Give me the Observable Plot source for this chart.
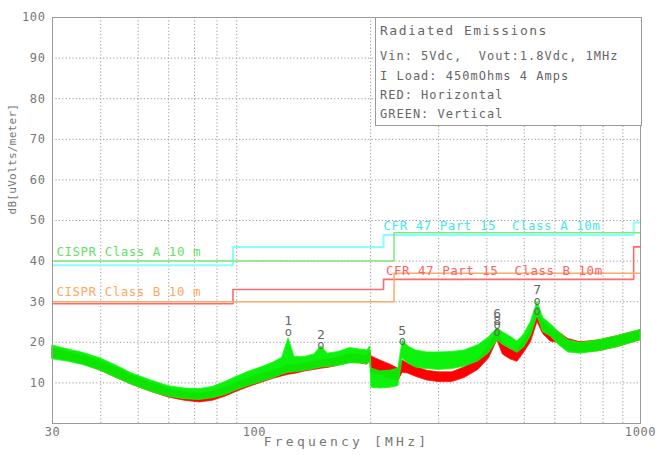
<!DOCTYPE html>
<html><head><meta charset="utf-8">
<script src="https://cdn.jsdelivr.net/npm/d3@7"></script>
<script src="https://cdn.jsdelivr.net/npm/@observablehq/plot@0.6"></script>
<style>
body{margin:0;background:#fff;}
#wrap{position:relative;width:656px;height:455px;overflow:hidden;}
#legend{position:absolute;left:375px;top:17px;width:267px;height:109px;border:1px solid #9a9a9a;background:#fff;box-sizing:border-box;font-family:"DejaVu Sans Mono",monospace;color:#666;}
#legend div{position:absolute;left:4px;white-space:pre;letter-spacing:1px;font-size:12px;line-height:14px;}
#legend div.t{font-size:13px;letter-spacing:1.5px;}
</style>
</head><body>
<div id="wrap"><div id="legend"></div></div>
<script>
// ---- data ----
const freq    = [30, 33, 36, 40, 44, 48, 54, 60, 66, 72, 78, 84, 90, 97, 104, 112, 118, 122.6, 127, 135, 143, 149, 155, 165, 177, 188, 196, 199.5, 201, 212, 225, 236, 242, 250, 262, 280, 300, 325, 350, 380, 405, 426, 440, 460, 480, 500, 520, 541, 560, 585, 615, 650, 700, 780, 870, 1000];
const greenLo = [15.8, 15.2, 14.4, 13, 11.2, 9.6, 7.8, 6.6, 6, 5.8, 6.2, 7, 8.2, 9.3, 10.2, 11.2, 12, 12.5, 12.6, 13, 13.4, 13.8, 13.9, 14.2, 14.8, 14.8, 14.6, 15, 8.8, 8.6, 8.8, 9.2, 16, 14.8, 13.8, 13.4, 13.2, 13.4, 14, 15.3, 17.3, 20.5, 19.4, 18.4, 17.4, 18.8, 21.5, 26.5, 22.5, 21.5, 19.3, 17.5, 17.2, 17.8, 18.8, 20.5];
const greenHi = [19.2, 18.2, 17.4, 16, 14.2, 12.4, 10.6, 9.2, 8.6, 8.5, 9, 10.2, 11.5, 12.8, 13.8, 15, 16.2, 21, 16.4, 16.4, 17, 19, 17.2, 17.6, 18.6, 18.2, 18, 19, 13.5, 12.8, 13, 13.5, 20.4, 19, 18, 17.5, 17.5, 17.6, 18, 19.3, 21.2, 23.5, 22.5, 21.4, 20.2, 22, 25, 30, 26, 24.5, 22.5, 20.5, 19.8, 20.5, 21.5, 23];
const redLo   = [16.2, 15.5, 14.6, 13, 11.2, 9.6, 7.8, 6.4, 5.6, 5.2, 5.6, 6.6, 7.8, 9, 10, 11, 11.6, 12, 12.2, 12.8, 13.2, 13.5, 13.7, 14.2, 15, 14.8, 14.5, 15.5, 12.5, 12, 11, 10.5, 12.5, 12.3, 11.5, 10.6, 10.2, 10.2, 11.2, 13.2, 16, 20.5, 17, 15.8, 15.2, 17.5, 20, 25, 22, 20.2, 19.8, 18, 17.5, 17.8, 18.8, 20.5];
const redHi   = [18.4, 17.5, 16.6, 15.2, 13.5, 11.8, 10, 8.5, 7.6, 7.4, 7.8, 8.8, 10, 11.2, 12.2, 13, 13.6, 14.5, 14.2, 14.8, 15.2, 15.5, 15.7, 16.2, 17, 16.8, 16.6, 18, 16.5, 15.5, 14.5, 13.5, 15.5, 14.8, 14, 13, 12.6, 12.6, 13.8, 15.8, 18.8, 23, 19.8, 18.3, 17.8, 20.3, 23, 27.5, 25, 23.2, 22.5, 20.8, 20, 20.5, 21.5, 23];

const cisprFreq = [30, 230, 1000];
const cisprADb  = [40, 47, 47];
const cisprBDb  = [30, 37, 37];
const cfrFreq   = [30, 88, 216, 960, 1000];
const cfrADb    = [39, 43.5, 46.4, 49.5, 49.5];
const cfrBDb    = [29.5, 33, 35.5, 43.5, 43.5];

const limitLabels = ["CISPR Class A 10 m", "CISPR Class B 10 m", "CFR 47 Part 15  Class A 10m", "CFR 47 Part 15  Class B 10m"];
const limitLabelFreq = [30, 30, 211, 214];
const limitLabelDb = [42.2, 32.3, 48.6, 37.6];
const limitLabelColors = ["#66e066", "#ffa860", "#44e8e8", "#ff6464"];

const markerLabels = ["1", "2", "5", "6", "8", "7", ""];
const markerFreq   = [122.6, 149, 242, 426, 426, 541, 541];
const markerDb     = [22.6, 19.2, 20.2, 24.2, 22.6, 30.2, 27.6];

const xTicks = [30, 100, 1000];
const yTicks = [10, 20, 30, 40, 50, 60, 70, 80, 90, 100];
const gridFreq = [40, 50, 60, 70, 80, 90, 200, 300, 400, 500, 600, 700, 800, 900];
const gridDb = [10, 20, 30, 40, 50, 60, 70, 80, 90];

const legendLines = ["Radiated Emissions", "Vin: 5Vdc,  Vout:1.8Vdc, 1MHz", "I Load: 450mOhms 4 Amps", "RED: Horizontal", "GREEN: Vertical"];

// ---- build ----
const green = freq.map((f, i) => ({f, lo: greenLo[i], hi: greenHi[i]}));
const red = freq.map((f, i) => ({f, lo: redLo[i], hi: redHi[i]}));
const steps = (fs, ds) => fs.map((f, i) => ({f, db: ds[i]}));
const labels = limitLabels.map((t, i) => ({t, f: limitLabelFreq[i], db: limitLabelDb[i], c: limitLabelColors[i]}));
const markers = markerLabels.map((t, i) => ({t, f: markerFreq[i], db: markerDb[i]}));
const font = "DejaVu Sans Mono";

const chart = Plot.plot({
  width: 656, height: 455,
  marginLeft: 52, marginRight: 16, marginTop: 17, marginBottom: 32,
  style: {fontFamily: font, color: "#777", background: "#fff", overflow: "visible"},
  x: {type: "log", domain: [30, 1000], ticks: xTicks, tickFormat: d => String(d), tickSize: 0, tickPadding: 4, label: null},
  y: {domain: [0, 100], ticks: yTicks, tickFormat: d => String(d), tickSize: 0, tickPadding: 7, label: null},
  marks: [
    Plot.ruleX(gridFreq, {stroke: "#999", strokeDasharray: "1.2,2.2", strokeWidth: 1}),
    Plot.ruleY(gridDb, {stroke: "#999", strokeDasharray: "1.2,2.2", strokeWidth: 1}),
    Plot.line(steps(cfrFreq, cfrADb), {x: "f", y: "db", curve: "step-after", stroke: "#88ffff", strokeWidth: 2}),
    Plot.line(steps(cisprFreq, cisprADb), {x: "f", y: "db", curve: "step-after", stroke: "#7fe87f", strokeWidth: 1.5}),
    Plot.line(steps(cfrFreq, cfrBDb), {x: "f", y: "db", curve: "step-after", stroke: "#ff6b6b", strokeWidth: 1.6}),
    Plot.line(steps(cisprFreq, cisprBDb), {x: "f", y: "db", curve: "step-after", stroke: "#ffaa66", strokeWidth: 1.5}),
    Plot.text(labels, {x: "f", y: "db", text: "t", fill: "c", textAnchor: "start", dx: 4, fontSize: 12.5, fontFamily: font}),
    Plot.areaY(red, {x: "f", y1: "lo", y2: "hi", fill: "#ff0000", stroke: "#ff1010", strokeWidth: 0.8}),
    Plot.areaY(green, {x: "f", y1: "lo", y2: "hi", fill: "#00f000", stroke: "#10ff10", strokeWidth: 0.8, fillOpacity: 0.95}),
    Plot.text(markers, {x: "f", y: "db", text: () => "o", fill: "#666", fontSize: 12, fontFamily: font}),
    Plot.text(markers, {x: "f", y: "db", text: "t", fill: "#666", fontSize: 13, dy: -11, fontFamily: font}),
    Plot.text(["Frequency [MHz]"], {frameAnchor: "bottom", dy: 22, fontSize: 13, fill: "#777", fontFamily: font}),
    Plot.text(["dB[uVolts/meter]"], {frameAnchor: "left", rotate: -90, dx: -40, dy: -6, fontSize: 11, fill: "#777", fontFamily: font}),
    Plot.frame({stroke: "#9a9a9a"})
  ]
});

d3.select(chart).selectAll("text").each(function() {
  const s = this.textContent;
  let ls = "0.6px";
  if (s === "Frequency [MHz]") ls = "3.2px";
  else if (s === "dB[uVolts/meter]") ls = "0.3px";
  else if (limitLabels.includes(s)) ls = "0.5px";
  this.style.letterSpacing = ls;
});
d3.select(chart).selectAll("[aria-label='x-axis tick label'] text, [aria-label='y-axis tick label'] text").style("font-size", "12px");

const wrap = document.getElementById("wrap");
wrap.insertBefore(chart, wrap.firstChild);
const legend = document.getElementById("legend");
const tops = [6, 31, 51, 70, 89];
legendLines.forEach((t, i) => {
  const d = document.createElement("div");
  d.textContent = t;
  d.style.top = tops[i] + "px";
  if (i === 0) d.className = "t";
  legend.appendChild(d);
});
</script>
</body></html>
